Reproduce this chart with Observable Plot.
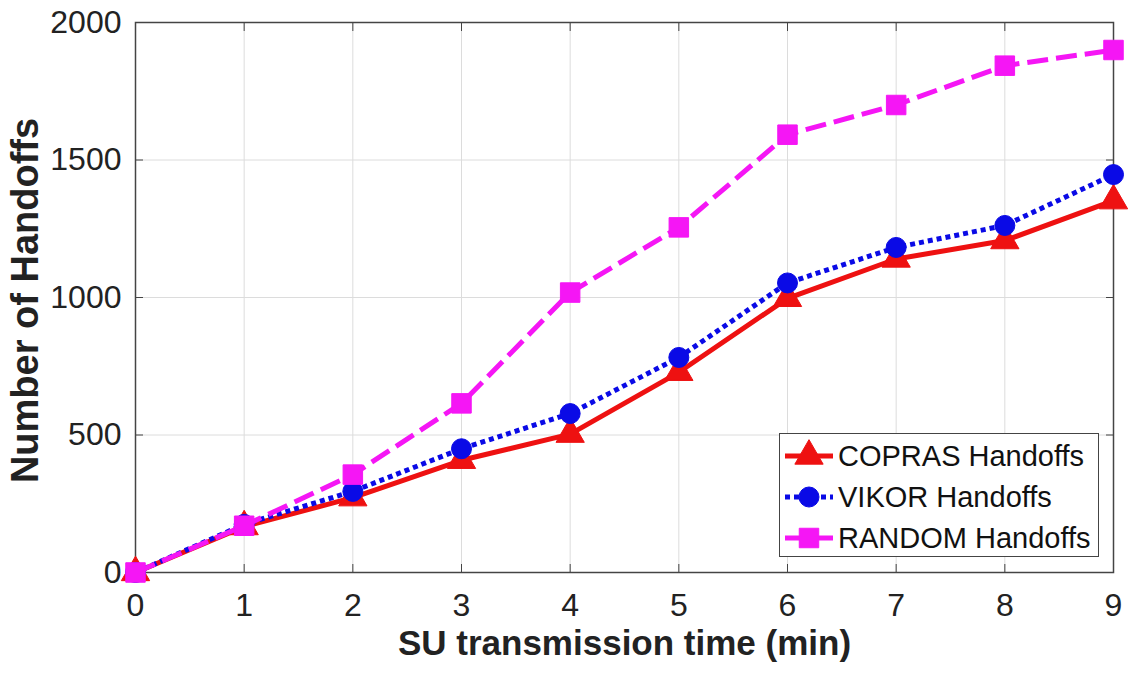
<!DOCTYPE html>
<html>
<head>
<meta charset="utf-8">
<script src="https://cdn.jsdelivr.net/npm/d3@7"></script>
<script src="https://cdn.jsdelivr.net/npm/@observablehq/plot@0.6"></script>
<style>
  html, body { margin: 0; padding: 0; background: #fff; }
  #wrap { position: relative; width: 1129px; height: 679px; font-family: "Liberation Sans", Arial, sans-serif; }
  #legend { position: absolute; left: 779px; top: 433px; width: 320px; height: 124px; background: #fff; border: 1.5px solid #444; box-sizing: border-box; }
  .row { position: absolute; left: 0; height: 40px; display: flex; align-items: center; }
  .row span { font-size: 29px; color: #111; margin-left: 4px; white-space: nowrap; }
</style>
</head>
<body>
<div id="wrap"></div>
<script>
const times = [0, 1, 2, 3, 4, 5, 6, 7, 8, 9];
const copras = [0, 167, 272, 408, 503, 728, 997, 1140, 1207, 1352];
const vikor = [0, 175, 295, 450, 578, 782, 1053, 1182, 1262, 1447];
const random = [0, 170, 356, 615, 1018, 1255, 1592, 1700, 1843, 1900];
const xTicks = [0, 1, 2, 3, 4, 5, 6, 7, 8, 9];
const yTicks = [0, 500, 1000, 1500, 2000];
const seriesNames = ["COPRAS Handoffs", "VIKOR Handoffs", "RANDOM Handoffs"];

const series = [
  {name: seriesNames[0], values: copras, color: "#ee1111", symbol: "triangle", r: 10.5, dash: null},
  {name: seriesNames[1], values: vikor, color: "#0a0ae6", symbol: "circle", r: 10, dash: "5,4"},
  {name: seriesNames[2], values: random, color: "#f516f5", symbol: "square", r: 11, dash: "21,8"}
];

const fmt = d => String(d);

const marks = [
  Plot.gridX(xTicks, {stroke: "#dcdcdc", strokeOpacity: 1, strokeWidth: 1}),
  Plot.gridY(yTicks, {stroke: "#dcdcdc", strokeOpacity: 1, strokeWidth: 1}),
  Plot.axisX(xTicks, {anchor: "bottom", tickSize: -8, tickFormat: () => "", label: null, stroke: "#444"}),
  Plot.axisX(xTicks, {anchor: "top", tickSize: -8, tickFormat: () => "", label: null, stroke: "#444"}),
  Plot.axisY(yTicks, {anchor: "left", tickSize: -8, tickFormat: () => "", label: null, stroke: "#444"}),
  Plot.axisY(yTicks, {anchor: "right", tickSize: -8, tickFormat: () => "", label: null, stroke: "#444"}),
  Plot.axisX(xTicks, {anchor: "bottom", tickSize: 0, tickPadding: 21, fontSize: 32, label: null, fill: "#222", tickFormat: fmt}),
  Plot.axisY(yTicks, {anchor: "left", tickSize: 0, tickPadding: 14, fontSize: 32, label: null, fill: "#222", tickFormat: fmt}),
  Plot.frame({stroke: "#444", strokeWidth: 1.5})
];

for (const s of series) {
  const data = times.map((t, i) => ({t, v: s.values[i]}));
  marks.push(Plot.line(data, {x: "t", y: "v", stroke: s.color, strokeWidth: 5, strokeDasharray: s.dash, strokeLinecap: "butt", strokeLinejoin: "round"}));
  marks.push(Plot.dot(data, {x: "t", y: "v", symbol: () => s.symbol, fill: s.color, stroke: s.color, strokeWidth: 1, r: s.r}));
}

marks.push(Plot.text(["SU transmission time (min)"], {frameAnchor: "bottom", dy: 71, fontSize: 35, fontWeight: "bold", fill: "#222", lineAnchor: "middle", textAnchor: "middle"}));
marks.push(Plot.text(["Number of Handoffs"], {frameAnchor: "left", dx: -110, dy: 3, rotate: -90, fontSize: 38, fontWeight: "bold", fill: "#222", lineAnchor: "middle", textAnchor: "middle"}));

const chart = Plot.plot({
  width: 1129,
  height: 679,
  marginLeft: 135,
  marginRight: 16,
  marginTop: 22,
  marginBottom: 107,
  style: {fontFamily: "'Liberation Sans', Arial, sans-serif", background: "#fff"},
  x: {domain: [0, 9]},
  y: {domain: [0, 2000]},
  symbol: {type: "identity"},
  marks
});

const wrap = document.getElementById("wrap");
wrap.appendChild(chart);

// Legend overlay
const legend = document.createElement("div");
legend.id = "legend";
const rowTops = [2, 43, 84];
series.forEach((s, i) => {
  const row = document.createElement("div");
  row.className = "row";
  row.style.top = rowTops[i] + "px";
  const sw = d3.create("svg").attr("width", 54).attr("height", 40);
  sw.append("line").attr("x1", 5).attr("x2", 53).attr("y1", 20).attr("y2", 20)
    .attr("stroke", s.color).attr("stroke-width", 5).attr("stroke-dasharray", s.dash);
  const sym = s.symbol === "triangle" ? d3.symbolTriangle : s.symbol === "circle" ? d3.symbolCircle : d3.symbolSquare;
  sw.append("path").attr("transform", "translate(29,20)")
    .attr("d", d3.symbol(sym, Math.PI * s.r * s.r)())
    .attr("fill", s.color).attr("stroke", s.color);
  row.appendChild(sw.node());
  const label = document.createElement("span");
  label.textContent = s.name;
  row.appendChild(label);
  legend.appendChild(row);
});
wrap.appendChild(legend);
</script>
</body>
</html>
